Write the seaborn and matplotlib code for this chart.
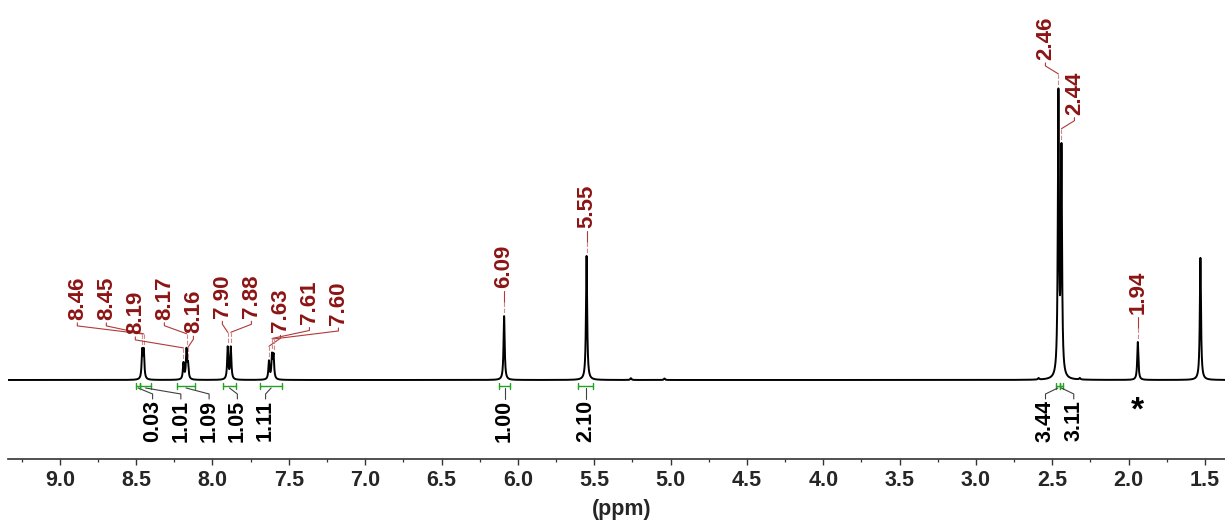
import numpy as np
import seaborn as sns
import matplotlib.pyplot as plt

# labelled 1H signals (ppm) and their heights (tallest line ~ 100)
peak_ppm = [8.46, 8.45, 8.19, 8.17, 8.16, 7.90, 7.88, 7.63, 7.61, 7.60,
            6.09, 5.55, 2.46, 2.44, 1.94]
peak_height = [9.4, 9.4, 5.6, 10.0, 4.6, 11.0, 11.0, 6.2, 7.8, 7.8,
               21.9, 42.5, 96.3, 76.6, 13.0]

# signals without a label (small impurities, 13C satellites, water)
extra_ppm = [5.26, 5.04, 2.59, 2.32, 1.53]
extra_height = [0.6, 0.5, 0.5, 0.5, 41.8]

# integral regions and values
int_start = [8.500, 8.474, 8.232, 7.931, 7.688, 6.123, 5.606, 2.475, 2.452]
int_end = [8.474, 8.402, 8.114, 7.846, 7.544, 6.051, 5.508, 2.452, 2.429]
int_value = ["0.03", "1.01", "1.09", "1.05", "1.11", "1.00", "2.10", "3.44", "3.11"]

solvent_ppm = 1.94   # marked with *

x_ticks = [9.0, 8.5, 8.0, 7.5, 7.0, 6.5, 6.0, 5.5, 5.0, 4.5, 4.0, 3.5, 3.0, 2.5, 2.0, 1.5]

LABEL_RED = '#8c1414'
LEADER_RED = '#b03a3a'
INT_GREEN = '#22a322'

sns.set_style('white')
plt.rcParams['font.family'] = ['Liberation Sans', 'DejaVu Sans']
plt.rcParams['font.weight'] = 'bold'

fig = plt.figure(figsize=(12.25, 5.25), dpi=100)
ax = fig.add_axes([8 / 1225, 66 / 525, 1217 / 1225, 459 / 525])

XLIM = (9.339, 1.369)
YLIM = (-27.05, 130.1)
ax.set_xlim(*XLIM)
ax.set_ylim(*YLIM)

# size of one pixel in data units
px_y = (YLIM[1] - YLIM[0]) / 459

# spectrum: sum of lorentzian lines
w = 0.0045
ppm = np.linspace(XLIM[0], XLIM[1], 20000)


def spectrum(x):
    x = np.asarray(x, dtype=float)
    out = np.zeros_like(x)
    for c, h in zip(peak_ppm + extra_ppm, peak_height + extra_height):
        out += h / (1 + ((x - c) / w) ** 2)
    return out


spec = spectrum(ppm)
sns.lineplot(x=ppm, y=spec, color='black', lw=1.4, estimator=None,
             sort=False, ax=ax)


def clusters(centers, gap=0.35):
    groups = [[0]]
    for i in range(1, len(centers)):
        if abs(centers[i] - centers[groups[-1][-1]]) < gap:
            groups[-1].append(i)
        else:
            groups.append([i])
    return groups


def spread(centers, idx, step=0.19, span=None):
    lo, hi = span if span else (min(centers[i] for i in idx), max(centers[i] for i in idx))
    mid = (lo + hi) / 2
    n = len(idx)
    # higher ppm is on the left
    return [mid + ((n - 1) / 2 - k) * step for k in range(n)]


# peak labels
for grp in clusters(peak_ppm):
    lx_list = spread(peak_ppm, grp)
    for i, lx in zip(grp, lx_list):
        p = peak_ppm[i]
        top = float(spectrum([p])[0])
        yb = top + 28 * px_y
        ax.text(lx, yb, f"{p:.2f}", rotation=90, ha='center', va='bottom',
                color=LABEL_RED, fontsize=16, fontweight='bold')
        y0 = yb - 3 * px_y
        y1 = yb - 6 * px_y
        y2 = yb - 14 * px_y
        ax.plot([lx, lx, p], [y0, y1, y2], color=LEADER_RED, lw=0.8)
        if top + 3 * px_y < y2:
            ax.plot([p, p], [y2, top + 3 * px_y], color='#d48a8a', lw=0.8,
                    dashes=(4, 1.5))

# integrals
bracket_y = -6 * px_y
cap = 3 * px_y
int_center = [(a + b) / 2 for a, b in zip(int_start, int_end)]
for grp in clusters(int_center):
    span = (min(int_end[i] for i in grp), max(int_start[i] for i in grp))
    lx_list = spread(int_center, grp, span=span, step=0.185)
    for i, lx in zip(grp, lx_list):
        a, b = int_start[i], int_end[i]
        ax.plot([a, b], [bracket_y, bracket_y], color=INT_GREEN, lw=1.0)
        for e in (a, b):
            ax.plot([e, e], [bracket_y - cap, bracket_y + cap], color=INT_GREEN, lw=1.0)
        c = int_center[i]
        ax.plot([c, lx, lx], [bracket_y - 2 * px_y, bracket_y - 8 * px_y,
                              bracket_y - 13 * px_y], color='#404040', lw=0.8)
        ax.text(lx, bracket_y - 14 * px_y, int_value[i], rotation=90,
                ha='center', va='top', color='black', fontsize=15.5,
                fontweight='bold')

ax.text(solvent_ppm, -31 * px_y, '*', ha='center', va='center',
        fontsize=24, fontweight='bold', color='black')

# axis styling
for s in ('left', 'right', 'top'):
    ax.spines[s].set_visible(False)
ax.spines['bottom'].set_linewidth(1.2)
ax.spines['bottom'].set_color('#333333')
ax.set_yticks([])
ax.set_xticks(x_ticks)
ax.set_xticklabels([f"{t:.1f}" for t in x_ticks], fontsize=15.5, fontweight='bold')
ax.set_xticks(np.arange(9.25, 1.3, -0.5), minor=True)
ax.tick_params(axis='x', which='major', direction='out', length=4.5, width=1.0,
               pad=3.5, color='#333333', bottom=True)
ax.tick_params(axis='x', which='minor', direction='out', length=2.5, width=0.9,
               color='#333333', bottom=True)
ax.set_xlabel('(ppm)', fontsize=15.5, fontweight='bold')
ax.xaxis.set_label_coords((622 - 8) / 1217, (459 - 499) / 459)
ax.set_ylabel('')

fig.savefig('out.png', dpi=100)
